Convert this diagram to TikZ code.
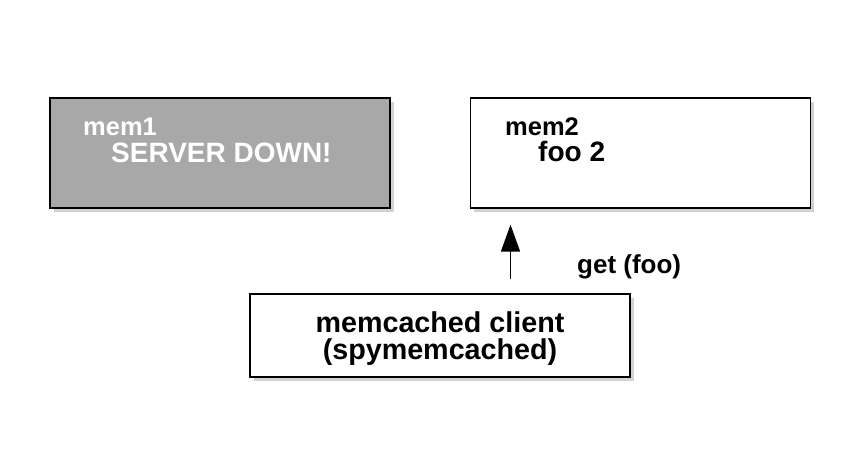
\documentclass[tikz,border=0pt]{standalone}
\usepackage{fontspec}
\setmainfont{Liberation Sans}
\usepackage{tikz}
\usetikzlibrary{shadows,arrows.meta}

\definecolor{downgray}{HTML}{A8A8A8}

\begin{document}
\begin{tikzpicture}[x=1pt,y=-1pt]
    \tikzstyle{box}=[draw,line width=1.3pt,inner sep=0pt,
      drop shadow={shadow xshift=3.5pt,shadow yshift=-3.5pt,fill=black!35}]
    \tikzstyle{server}=[box,minimum width=340pt,minimum height=110pt]
    \tikzstyle{lbl}=[anchor=base west,inner sep=0pt,font=\bfseries\fontsize{25.5}{28}\selectfont]
    \tikzstyle{val}=[anchor=base west,inner sep=0pt,font=\bfseries\fontsize{28}{30}\selectfont]
    \tikzstyle{getarrow}=[line width=1.5pt,-{Triangle[length=27pt,width=19pt]}]
    \useasboundingbox[fill=white] (0,0) rectangle (860,448);
    % servers
    \node[server,fill=downgray] (mem1) at (220,153) {};
    \node[server,fill=white] (mem2) at (640.5,153) {};
    \node[lbl,text=white] (mem1name) at (83,135) {mem1};
    \node[val,text=white] (mem1val) at (111,162) {SERVER DOWN!};
    \node[lbl] (mem2name) at (505,135) {mem2};
    \node[val] (mem2val) at (538,161) {foo 2};
    % client
    \node[box,fill=white,minimum width=380pt,minimum height=83pt,align=center,
      font=\bfseries\fontsize{28.7}{27.5}\selectfont] (client) at (440,335.5) {};
    \node[align=center,inner sep=0pt,font=\bfseries\fontsize{28.7}{27.5}\selectfont]
      (clienttxt) at ([yshift=-3pt]client.center) {memcached client\\(spymemcached)};
    \coordinate (getx) at (510.5,0);
    \draw[getarrow,shorten <=14pt,shorten >=16pt] (client.north -| getx) -- (mem2.south -| getx);
    \node[anchor=base west,inner sep=0pt,font=\bfseries\fontsize{26}{30}\selectfont] (getlbl) at (577,273) {get (foo)};
\end{tikzpicture}
\end{document}
